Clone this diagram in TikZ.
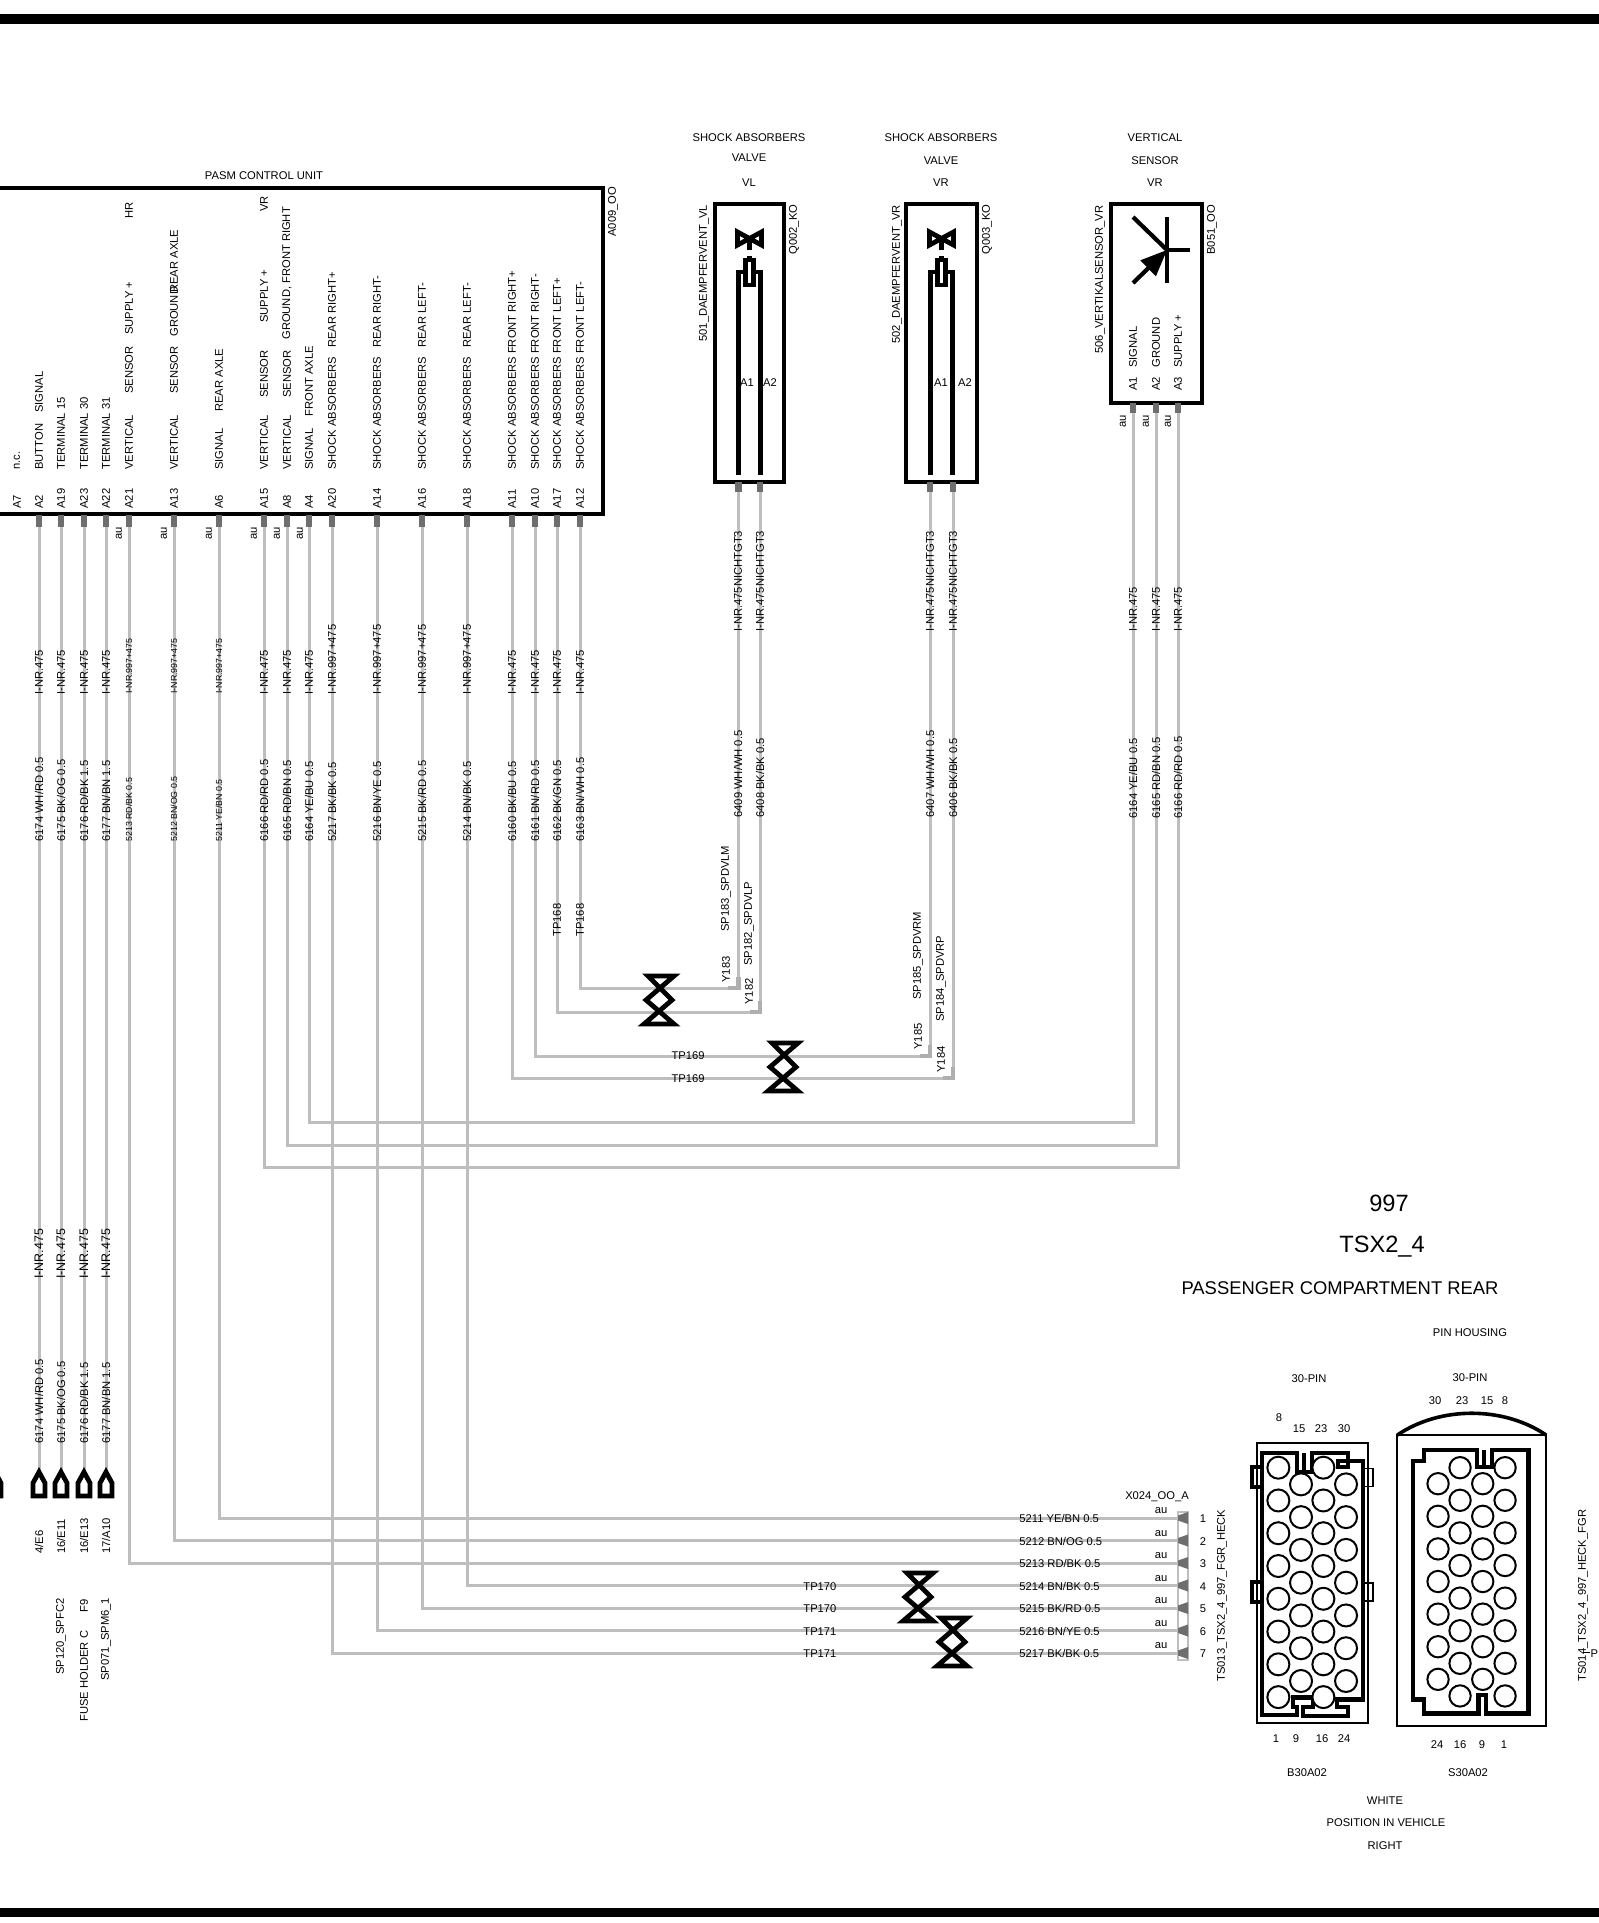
\documentclass[tikz,border=0pt]{standalone}
\usepackage{fontspec}
\setmainfont{Liberation Sans}
\usetikzlibrary{positioning, calc, arrows}
\definecolor{wiregray}{RGB}{190,190,190}
\definecolor{stubgray}{RGB}{110,110,110}
\definecolor{cornergray}{RGB}{175,175,175}
\tikzset{
    wire/.style={line width=1.5pt, wiregray},
    pinstub/.style={line width=3.4pt, stubgray},
    cornerstub/.style={line width=2.4pt, cornergray},
    heavy/.style={line width=2.1pt, black},
    lab/.style={font=\fontsize{5.6}{6}\selectfont, inner sep=0pt},
    hlab/.style={lab, yshift=-0.4pt},
    tinylab/.style={font=\fontsize{4.4}{5}\selectfont, inner sep=0pt},
    vlab/.style={lab, rotate=90, anchor=west},
    vtiny/.style={tinylab, rotate=90, anchor=west},
    vwide/.style={vlab, font=\fontsize{6.2}{7}\selectfont},
    twistmark/.pic={
        \draw[line width=2.4pt, line join=miter] (-11,0) -- (15,0) -- (-13,24) -- (15,48) -- (-15,48) -- (13,24) -- cycle;
    },
    splice/.pic={
        \draw[line width=2.4pt, fill=white, line join=miter] (0,0) -- (6,11) -- (6,24) -- (-6,24) -- (-6,11) -- cycle;
    },
    valvemark/.pic={
        % rails and the small plunger
        \draw[heavy] (-11,203) -- (-11,0) -- (11,0) -- (11,203);
        \draw[line width=2.4pt, fill=white] (-4,-12) rectangle (4,13);
        \draw[heavy] (0,-16) -- (0,-12);
        % bow tie
        \draw[line width=2.4pt, fill=white, line join=miter] (-12,-40) -- (12,-27) -- (12,-40) -- (-12,-27) -- cycle;
        \draw[heavy] (0,-33) -- (0,-22);
    }
}

\begin{document}
\begin{tikzpicture}[x=0.5pt, y=-0.5pt]
    \useasboundingbox (0,0) rectangle (1599,1923);
    \clip (0,0) rectangle (1599,1923);

    % Page bars
    \fill[black] (0,13.5) rectangle (1599,23.5);
    \fill[black] (0,1908) rectangle (1599,1917);

    % Control unit
    \draw[line width=2pt] (-10,188) -- (603,188) -- (603,514) -- (-10,514);
    \node[hlab] (pasm) at (264,175) {PASM CONTROL UNIT};
    \node[vlab] (pasmref) at (613,237) {A009\_OO};
    \node[vlab] (nA7) at (17,509) {A7};
    \node[vlab] (nnc) at (17,470) {n.c.};
    \foreach \pin/\px in {A2/39, A19/61, A23/84, A22/106, A21/129, A13/174, A6/219, A15/264, A8/287, A4/309, A20/332, A14/377, A16/422, A18/467, A11/512, A10/535, A17/557, A12/580}{
        \draw[pinstub] (\px,515) -- (\px,527) coordinate (p\pin);
        \node[vlab] (n\pin) at (\px,509) {\pin};
    }
    % Pin texts, in pieces as printed
    \foreach \tag/\px/\py/\txt in {
        a/39/470/BUTTON, b/39/413/SIGNAL,
        c/61/470/TERMINAL 15, d/84/470/TERMINAL 30, e/106/470/TERMINAL 31,
        f/129/470/VERTICAL, g/129/394/SENSOR, h/129/335/SUPPLY +, i/129/219/HR,
        j/174/470/VERTICAL, k/174/394/SENSOR, l/174/337/GROUND, m/174/293/REAR AXLE,
        n/219/470/SIGNAL, o/219/412/REAR AXLE,
        q/264/470/VERTICAL, r/264/398/SENSOR, s/264/323/SUPPLY +, t/264/212/VR,
        u/287/470/VERTICAL, v/287/398/SENSOR, w/287/340/{GROUND, FRONT RIGHT},
        x/309/470/SIGNAL, y/309/417/FRONT AXLE,
        z/332/470/SHOCK ABSORBERS, aa/332/348/REAR RIGHT+,
        ab/377/470/SHOCK ABSORBERS, ac/377/348/REAR RIGHT-,
        ad/422/470/SHOCK ABSORBERS, ae/422/348/REAR LEFT-,
        af/467/470/SHOCK ABSORBERS, ag/467/348/REAR LEFT-,
        ah/512/470/SHOCK ABSORBERS FRONT RIGHT+, ai/535/470/SHOCK ABSORBERS FRONT RIGHT-,
        aj/557/470/SHOCK ABSORBERS FRONT LEFT+, ak/580/470/SHOCK ABSORBERS FRONT LEFT-}{
        \node[vlab] (t\tag) at (\px,\py) {\txt};
    }
    \foreach \px/\py in {119/533, 164/533, 209/533, 254/533, 277/533, 300/533, 1123/421, 1146/421, 1168/421}{
        \node[vlab, anchor=center] (au\px) at (\px,\py) {au};
    }

    % Valve and sensor boxes
    \draw[line width=2pt] (715,204) rectangle (784,482);
    \draw[line width=2pt] (906,204) rectangle (977,482);
    \draw[line width=2pt] (1111,204) rectangle (1202,403);
    \pic at (749.5,272) {valvemark};
    \pic at (941.5,272) {valvemark};
    \foreach \tag/\px/\py/\txt in {sa/749/137/SHOCK ABSORBERS, sb/749/157/VALVE, sc/749/182/VL,
        sd/941/137/SHOCK ABSORBERS, se/941/160/VALVE, sf/941/182/VR,
        sg/1155/137/VERTICAL, sh/1155/160/SENSOR, si/1155/182/VR,
        a1l/747/382/A1, a2l/770/382/A2, a1r/941/382/A1, a2r/965/382/A2}{
        \node[hlab] (\tag) at (\px,\py) {\txt};
    }
    \foreach \tag/\px/\py/\txt in {va/704/342/501\_DAEMPFERVENT\_VL, vb/794/255/Q002\_KO,
        vc/897/344/502\_DAEMPFERVENT\_VR, vd/987/255/Q003\_KO,
        ve/1100/354/506\_VERTIKALSENSOR\_VR, vf/1212/255/B051\_OO,
        vg/1133/391/A1, vh/1156/391/A2, vi/1178/391/A3,
        vj/1133/368/SIGNAL, vk/1156/368/GROUND, vl/1178/368/SUPPLY +}{
        \node[vlab] (\tag) at (\px,\py) {\txt};
    }
    % Sensor symbol
    \draw[heavy] (1167,217) -- (1167,283);
    \draw[heavy] (1167,250) -- (1190,250);
    \draw[heavy] (1133,217) -- (1167,250);
    \draw[heavy, -triangle 45] (1133,283) -- (1167,250);

    % Device pins
    \foreach \pin/\px/\py in {qa/738.5/482, qb/760/482, qc/930/482, qd/953/482, ba/1133/403, bb/1156/403, bc/1178/403}{
        \draw[pinstub] (\px,\py) -- (\px,\py+10) coordinate (\pin);
    }

    % Splices, left side
    \foreach \pin/\px in {A2/39, A19/61, A23/84, A22/106}{
        \coordinate (sp\pin) at (\px,1472);
    }
    \foreach \pin in {A2, A19, A23, A22}{
        \draw[wire] (p\pin) -- (sp\pin);
    }
    \foreach \pin in {A2, A19, A23, A22}{
        \pic at (sp\pin) {splice};
    }
    \pic at (-5,1472) {splice};

    % Wires to the valves and the sensor
    \coordinate (qaa) at (659,988);
    \coordinate (qbb) at (659,1012);
    \coordinate (qcc) at (783,1056);
    \coordinate (qdd) at (783,1078);
    \coordinate (baa) at (700,1122);
    \coordinate (bbb) at (700,1145);
    \coordinate (bcc) at (700,1167);
    \foreach \from/\via/\to in {pA12/qaa/qa, pA17/qbb/qb, pA10/qcc/qc, pA11/qdd/qd, pA4/baa/ba, pA8/bbb/bb, pA15/bcc/bc}{
        \draw[wire] (\from) |- (\via) -| (\to);
    }
    \draw[cornerstub] (738.5,977) |- (728,988);
    \draw[cornerstub] (760,1001) |- (750,1012);
    \draw[cornerstub] (930,1045) |- (920,1056);
    \draw[cornerstub] (953,1067) |- (943,1078);

    % Wires to the connector
    \foreach \pin/\row/\wy in {A6/1/1518, A13/2/1540.5, A21/3/1563, A18/4/1585.5, A16/5/1608, A14/6/1630.5, A20/7/1653}{
        \coordinate (x\row) at (1178,\wy);
        \draw[wire] (p\pin) |- (x\row);
    }

    % Twists
    \pic at (659,976) {twistmark};
    \pic at (783,1043) {twistmark};
    \pic at (918,1573) {twistmark};
    \pic at (952,1618) {twistmark};

    % Wire texts
    \foreach \tag/\px/\py/\txt in {
        na/39/695/I-NR.475, nb/61/695/I-NR.475, nc/84/695/I-NR.475, nd/106/695/I-NR.475,
        ne/264/695/I-NR.475, nf/287/695/I-NR.475, ng/309/695/I-NR.475,
        nh/332/695/I-NR.997+475, ni/377/695/I-NR.997+475, nj/422/695/I-NR.997+475, nk/467/695/I-NR.997+475,
        nl/512/695/I-NR.475, nm/535/695/I-NR.475, nn/557/695/I-NR.475, no/580/695/I-NR.475,
        oa/39/842/{6174 WH/RD 0.5}, ob/61/842/{6175 BK/OG 0.5}, oc/84/842/{6176 RD/BK 1.5}, od/106/842/{6177 BN/BN 1.5},
        oe/264/842/{6166 RD/RD 0.5}, of/287/842/{6165 RD/BN 0.5}, og/309/842/{6164 YE/BU 0.5}, oh/332/842/{5217 BK/BK 0.5},
        oi/377/842/{5216 BN/YE 0.5}, oj/422/842/{5215 BK/RD 0.5}, ok/467/842/{5214 BN/BK 0.5},
        ol/512/842/{6160 BK/BU 0.5}, om/535/842/{6161 BN/RD 0.5}, on/557/842/{6162 BK/GN 0.5}, oo/580/842/{6163 BN/WH 0.5},
        pa/557/937/TP168, pb/580/937/TP168,
        qi/738/632/I-NR.475NICHTGT3, qj/760/632/I-NR.475NICHTGT3, qk/930/632/I-NR.475NICHTGT3, ql/953/632/I-NR.475NICHTGT3,
        qm/738/818/{6409 WH/WH 0.5}, qn/760/818/{6408 BK/BK 0.5}, qo/930/818/{6407 WH/WH 0.5}, qp/953/818/{6406 BK/BK 0.5},
        ra/726/932/SP183\_SPDVLM, rb/749/966/SP182\_SPDVLP, rc/726/983/Y183, rd/749/1005/Y182,
        re/918/1000/SP185\_SPDVRM, rf/941/1022/SP184\_SPDVRP, rg/918/1050/Y185, rh/941/1073/Y184,
        sj/1133/632/I-NR.475, sk/1156/632/I-NR.475, sl/1178/632/I-NR.475,
        sm/1133/819/{6164 YE/BU 0.5}, sn/1156/819/{6165 RD/BN 0.5}, so/1178/819/{6166 RD/RD 0.5},
        te/39/1444/{6174 WH/RD 0.5}, tf/61/1444/{6175 BK/OG 0.5}, tg/84/1444/{6176 RD/BK 1.5}, th/106/1444/{6177 BN/BN 1.5},
        ti/39/1554/{4/E6}, tj/61/1554/{16/E11}, tk/84/1554/{16/E13}, tl/106/1554/{17/A10},
        tm/61/1675/SP120\_SPFC2, tn/84/1722/FUSE HOLDER C, to/84/1613/F9, tp/106/1681/SP071\_SPM6\_1,
        tq/1222/1682/TS013\_TSX2\_4\_997\_FGR\_HECK, tr/1583/1682/TS014\_TSX2\_4\_997\_HECK\_FGR}{
        \node[vlab] (w\tag) at (\px,\py) {\txt};
    }
    \foreach \tag/\px in {ta/39, tb/61, tc/84, td/106}{
        \node[vwide] (w\tag) at (\px,1279) {I-NR.475};
    }
    \foreach \tag/\px/\py/\txt in {ua/129/694/I-NR.997+475, ub/174/694/I-NR.997+475, uc/219/694/I-NR.997+475,
        ud/129/842/{5213 RD/BK 0.5}, ue/174/842/{5212 BN/OG 0.5}, uf/219/842/{5211 YE/BN 0.5}}{
        \node[vtiny] (w\tag) at (\px,\py) {\txt};
    }
    \foreach \tag/\py in {a/1055, b/1078}{
        \node[hlab] (tp69\tag) at (688,\py) {TP169};
    }

    % Connector X024
    \draw[line width=1pt, wiregray] (1178,1512) rectangle (1188,1660);
    \node[hlab] (xref) at (1157,1496) {X024\_OO\_A};
    \foreach \row/\wy/\txt in {1/1518/{5211 YE/BN 0.5}, 2/1540.5/{5212 BN/OG 0.5}, 3/1563/{5213 RD/BK 0.5}, 4/1585.5/{5214 BN/BK 0.5}, 5/1608/{5215 BK/RD 0.5}, 6/1630.5/{5216 BN/YE 0.5}, 7/1653/{5217 BK/BK 0.5}}{
        \fill[stubgray] (1178,\wy-2.5) -- (1188,\wy-6) -- (1188,\wy+6) -- (1178,\wy+2.5) -- cycle;
        \node[hlab, anchor=west] (wn\row) at (1019,\wy) {\txt};
        \node[hlab] (au\row) at (1161,\wy-8) {au};
        \node[hlab] (no\row) at (1203,\wy) {\row};
    }
    \foreach \tag/\py/\txt in {a/1585.5/TP170, b/1608/TP170, c/1630.5/TP171, d/1653/TP171}{
        \node[hlab, anchor=west] (tp\tag) at (803,\py) {\txt};
    }

    % Headings
    \node[font=\fontsize{11.8}{14}\selectfont, inner sep=0pt] (head) at (1389,1203) {997};
    \node[font=\fontsize{11.8}{14}\selectfont, inner sep=0pt] (headb) at (1382,1247) {TSX2\_4};
    \node[font=\fontsize{9.2}{11}\selectfont, inner sep=0pt] (headc) at (1340,1288) {PASSENGER COMPARTMENT REAR};
    \foreach \tag/\px/\py/\txt in {ha/1470/1332/PIN HOUSING, hb/1309/1378/30-PIN, hc/1470/1377/30-PIN,
        hd/1435/1400/30, he/1462/1400/23, hf/1487/1400/15, hg/1505/1400/8,
        hh/1279/1417/8, hi/1299/1428/15, hj/1321/1428/23, hk/1344/1428/30,
        hl/1276/1738/1, hm/1296/1738/9, hn/1322/1738/16, ho/1344/1738/24,
        hp/1437/1744/24, hq/1460/1744/16, hr/1482/1744/9, hs/1504/1744/1,
        ht/1307/1772/B30A02, hu/1468/1772/S30A02, hv/1385/1800/WHITE,
        hw/1386/1822/POSITION IN VEHICLE, hx/1385/1845/RIGHT, hy/1596/1653/P:}{
        \node[hlab] (\tag) at (\px,\py) {\txt};
    }
    \draw[line width=0.5pt] (1583,1652) -- (1590,1652);

    % Housing drawings, in a finer grid
    \begin{scope}[shift={(1200,1430)}, x=0.1667pt, y=-0.1667pt]
        % Left housing
        \draw[line width=0.9pt] (170,40) rectangle (505,878);
        \draw[heavy] (185,68) -- (290,68) -- (290,125) -- (335,125) -- (335,68) -- (445,68) -- (445,110) -- (415,110) -- (415,92) -- (490,92) -- (490,808) -- (410,808) -- (410,830) -- (445,830) -- (445,858) -- (310,858) -- (310,830) -- (340,830) -- (340,802) -- (278,802) -- (278,830) -- (290,830) -- (290,855) -- (185,855) -- cycle;
        \draw[heavy] (312,68) -- (312,122);
        \draw[heavy] (185,112) -- (155,112) -- (155,172) -- (185,172);
        \draw[heavy] (185,455) -- (155,455) -- (155,515) -- (185,515);
        \draw[line width=0.8pt] (490,115) -- (518,115) -- (518,170) -- (490,170);
        \draw[line width=0.8pt] (490,458) -- (518,458) -- (518,512) -- (490,512);
        \foreach \cx/\cy/\n in {235/113/7, 303/163/6, 370/113/7, 438/163/6}{
            \foreach \k in {0,...,\n}{
                \draw[line width=1pt, fill=white] (\cx,\cy+\k*98.3) circle [radius=33];
            }
        }
        % Right housing
        \draw[line width=0.9pt] (592,15) rectangle (1038,888);
        \draw[heavy] (640,92) -- (672,92) -- (672,60) -- (830,60) -- (830,112) -- (875,112) -- (875,60) -- (985,60) -- (985,850) -- (858,850) -- (858,795) -- (835,795) -- (835,850) -- (672,850) -- (672,808) -- (640,808) -- cycle;
        \draw[heavy] (852,60) -- (852,112);
        \draw[line width=1.8pt] (592,15) .. controls (720,-72) and (910,-72) .. (1038,15);
        \foreach \cx/\cy/\n in {714/161/6, 780/113/7, 848/161/6, 915/113/7}{
            \foreach \k in {0,...,\n}{
                \draw[line width=1pt, fill=white] (\cx,\cy+\k*97.8) circle [radius=32];
            }
        }
    \end{scope}
\end{tikzpicture}
\end{document}
